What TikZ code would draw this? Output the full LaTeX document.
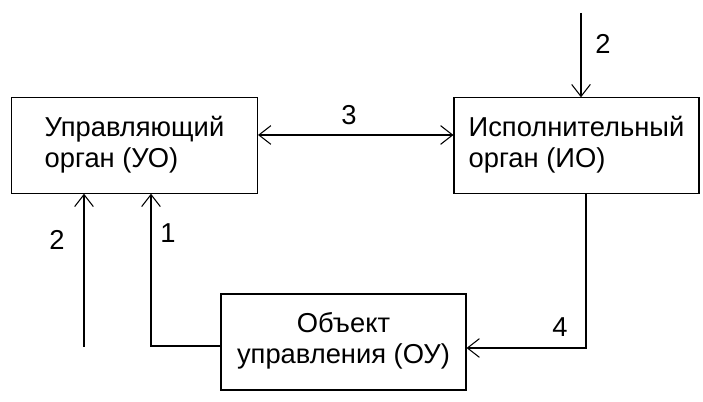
\documentclass[tikz,border=0pt]{standalone}
\usepackage{fontspec}
\setmainfont{Liberation Sans}
\usetikzlibrary{arrows.meta,calc}
\begin{document}
\begin{tikzpicture}[x=0.75pt,y=-0.75pt,
  blk/.style={draw,line width=0.8pt,inner sep=0pt,minimum height=71.5pt,font=\fontsize{20.5}{23.5}\selectfont},
  barb/.tip={Straight Barb[length=9pt,width=14pt,line width=0.8pt]},
  conn/.style={line width=0.8pt,-barb},
  lbl/.style={font=\fontsize{20.5}{23.5}\selectfont,inner sep=0pt}]
\useasboundingbox (0,0) rectangle (703,402);
\node[blk,minimum width=184.5pt,align=left] (uo) at (134.5,145.5) {\raisebox{-1pt}{\begin{tabular}{@{}l@{}}Управляющий\\орган (УО)\end{tabular}}};
\node[blk,minimum width=183.75pt,align=left] (io) at (576.5,145.5) {\raisebox{4pt}{\begin{tabular}{@{}l@{}}Исполнительный\\орган (ИО)\end{tabular}}};
\node[blk,minimum width=183.75pt,minimum height=72pt,align=center] (ou) at (343.5,342) {\raisebox{1.5pt}{\begin{tabular}{@{}c@{}}Объект\\управления (ОУ)\end{tabular}}};
% 3
\draw[line width=0.8pt,barb-barb] ($(uo.east)+(0,-10.5)$) -- ($(io.west)+(0,-10.5)$);
\node[lbl] (n3) at (349,115) {3};
% 2 top
\coordinate (t2) at (581,13);
\draw[conn] (t2) -- (t2 |- io.north);
\node[lbl] (n2a) at (603,44) {2};
% 2 left
\coordinate (b2) at (84,347);
\draw[conn] (b2) -- (b2 |- uo.south);
\node[lbl] (n2b) at (57,240) {2};
% 1
\coordinate (c1) at (151,0);
\draw[conn] ($(ou.west)+(0,4)$) -| (c1 |- uo.south);
\node[lbl] (n1) at (168,233) {1};
% 4
\coordinate (c4) at (586,0);
\draw[conn] (c4 |- io.south) |- ($(ou.east)+(0,6)$);
\node[lbl] (n4) at (560,327) {4};
\end{tikzpicture}
\end{document}
